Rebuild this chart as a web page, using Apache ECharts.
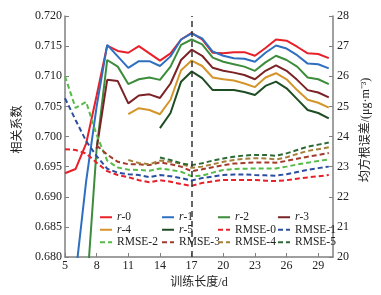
<!DOCTYPE html>
<html>
<head>
<meta charset="utf-8">
<script src="https://cdn.jsdelivr.net/npm/echarts@6/dist/echarts.min.js"></script>
<style>
  html, body { margin: 0; padding: 0; background: #fff; }
  #chart { width: 381px; height: 295px; }
</style>
</head>
<body>
<div id="chart"></div>
<script>
// training length (days)
const days = [5, 6, 7, 8, 9, 10, 11, 12, 13, 14, 15, 16, 17, 18, 19, 20, 21, 22, 23, 24, 25, 26, 27, 28, 29, 30];
const xTicks = [5, 8, 11, 14, 17, 20, 23, 26, 29];

// correlation coefficient r (left axis)
const r0 = [0.6939, 0.6946, 0.6988, 0.7068, 0.7151, 0.7142, 0.7139, 0.7150, 0.7138, 0.7126,
  0.7138, 0.7161, 0.7172, 0.7161, 0.7139, 0.7138, 0.7140, 0.7140, 0.7134, 0.7147,
  0.7161, 0.7159, 0.7149, 0.7138, 0.7137, 0.7130];
const r1 = [null, 0.677, 0.6925, 0.7050, 0.7152, 0.7133, 0.7114, 0.7125, 0.7125, 0.7117,
  0.7133, 0.7161, 0.7171, 0.7163, 0.7141, 0.7134, 0.7130, 0.7129, 0.7124, 0.7139,
  0.7151, 0.7146, 0.7135, 0.7121, 0.7120, 0.7113];
const r2 = [null, null, 0.673, 0.698, 0.7127, 0.7116, 0.7087, 0.7095, 0.7098, 0.7094,
  0.7116, 0.7152, 0.7161, 0.7153, 0.7131, 0.7124, 0.7120, 0.7116, 0.7109, 0.7123,
  0.7134, 0.7127, 0.7116, 0.7098, 0.7095, 0.7087];
const r3 = [null, null, null, 0.698, 0.7094, 0.7092, 0.7055, 0.7068, 0.7070, 0.7064,
  0.7088, 0.7127, 0.7144, 0.7134, 0.7114, 0.7109, 0.7106, 0.7102, 0.7095, 0.7109,
  0.7118, 0.7109, 0.7094, 0.7077, 0.7073, 0.7065];
const r4 = [null, null, null, null, null, null, 0.7037, 0.7047, 0.7044, 0.7037,
  0.7061, 0.7110, 0.7126, 0.7117, 0.7098, 0.7095, 0.7093, 0.7088, 0.7082, 0.7098,
  0.7105, 0.7095, 0.7077, 0.7061, 0.7056, 0.7048];
const r5 = [null, null, null, null, null, null, null, null, null, 0.7014,
  0.7039, 0.7091, 0.7108, 0.7097, 0.7077, 0.7077, 0.7077, 0.7074, 0.7069, 0.7084,
  0.7091, 0.7080, 0.7062, 0.7044, 0.7039, 0.7030];

// RMSE (right axis)
const rmse0 = [23.58, 23.55, 23.44, 23.13, 22.85, 22.72, 22.65, 22.55, 22.48, 22.55,
  22.50, 22.42, 22.36, 22.46, 22.51, 22.56, 22.56, 22.56, 22.56, 22.53,
  22.52, 22.55, 22.60, 22.64, 22.68, 22.72];
const rmse1 = [25.27, 24.55, 23.85, 23.35, 22.93, 22.80, 22.75, 22.72, 22.65, 22.72,
  22.68, 22.62, 22.54, 22.62, 22.67, 22.72, 22.74, 22.74, 22.72, 22.71,
  22.70, 22.75, 22.82, 22.89, 22.95, 23.00];
const rmse2 = [26.0, 24.95, 25.15, 24.05, 23.2, 22.97, 22.90, 22.89, 22.86, 22.94,
  22.89, 22.83, 22.68, 22.70, 22.80, 22.89, 22.92, 22.93, 22.94, 22.94,
  22.94, 23.00, 23.07, 23.13, 23.19, 23.24];
const rmse3 = [null, null, null, 23.70, 23.40, 23.16, 23.08, 23.08, 23.05, 23.14,
  23.08, 23.00, 22.85, 22.91, 22.98, 23.05, 23.10, 23.12, 23.14, 23.14,
  23.13, 23.19, 23.26, 23.33, 23.39, 23.45];
const rmse4 = [null, null, null, null, null, null, 23.22, 23.12, 23.08, 23.20,
  23.16, 23.10, 22.96, 23.00, 23.08, 23.16, 23.22, 23.26, 23.28, 23.27,
  23.24, 23.31, 23.42, 23.52, 23.58, 23.64];
const rmse5 = [null, null, null, null, null, null, null, null, null, 23.30,
  23.22, 23.11, 23.05, 23.11, 23.20, 23.27, 23.33, 23.37, 23.39, 23.39,
  23.36, 23.44, 23.55, 23.66, 23.73, 23.80];

const splitDay = 17;

const serif = 'Liberation Serif, Noto Sans CJK SC, serif';
const axisColor = '#808080';
const textColor = '#222';

const pairs = (arr) => days.map((d, i) => [d, arr[i]]);

function solid(name, data, color) {
  return {
    name, type: 'line', yAxisIndex: 0, data: pairs(data),
    symbol: 'none', lineStyle: { color, width: 2 }, itemStyle: { color }
  };
}
function dashed(name, data, color) {
  return {
    name, type: 'line', yAxisIndex: 1, data: pairs(data),
    symbol: 'none', lineStyle: { color, width: 2, type: [5, 3] }, itemStyle: { color }
  };
}

const series = [
  solid('r-0', r0, '#e8202a'),
  solid('r-1', r1, '#2e6fc0'),
  solid('r-2', r2, '#3c8c3c'),
  solid('r-3', r3, '#7b2226'),
  solid('r-4', r4, '#d4952a'),
  solid('r-5', r5, '#1e4d24'),
  dashed('RMSE-0', rmse0, '#e8202a'),
  dashed('RMSE-1', rmse1, '#2b4fa0'),
  dashed('RMSE-2', rmse2, '#56bb48'),
  dashed('RMSE-3', rmse3, '#a33b2e'),
  dashed('RMSE-4', rmse4, '#a5803a'),
  dashed('RMSE-5', rmse5, '#2d6a35'),
];

// vertical split at the best training length
series[0].markLine = {
  silent: true, symbol: 'none', label: { show: false },
  lineStyle: { color: '#333', width: 1.5, type: [6, 4] },
  data: [{ xAxis: splitDay }]
};

const legendCols = [
  { left: 94, names: ['r-0', 'r-4', 'RMSE-2'] },
  { left: 156, names: ['r-1', 'r-5', 'RMSE-3'] },
  { left: 212, names: ['r-2', 'RMSE-0', 'RMSE-4'] },
  { left: 272, names: ['r-3', 'RMSE-1', 'RMSE-5'] },
];

const legend = legendCols.map((c) => ({
  orient: 'vertical', left: c.left, top: 206, data: c.names,
  itemWidth: 12, itemHeight: 8, itemGap: 0,
  itemStyle: { opacity: 0 },
  textStyle: {
    fontFamily: serif, fontSize: 11.5, color: textColor, lineHeight: 12.5,
    rich: { i: { fontFamily: serif, fontSize: 11.5, fontStyle: 'italic', color: textColor, lineHeight: 12.5 } }
  },
  formatter: (n) => n.startsWith('r-') ? '{i|r}' + n.slice(1) : n
}));

const chart = echarts.init(document.getElementById('chart'), null, { renderer: 'canvas' });
chart.setOption({
  animation: false,
  backgroundColor: '#fff',
  grid: { left: 65, right: 48, top: 16, bottom: 38 },
  legend,
  xAxis: {
    type: 'value', min: 5, max: 30.4,
    name: '训练长度/d', nameLocation: 'middle', nameGap: 17,
    nameTextStyle: { fontFamily: serif, fontSize: 12, color: textColor },
    axisLine: { lineStyle: { color: axisColor, width: 1.5 } },
    axisTick: { inside: true, length: 4, customValues: xTicks, lineStyle: { color: axisColor } },
    axisLabel: { customValues: xTicks, margin: 3, fontFamily: serif, fontSize: 12, color: textColor },
    splitLine: { show: false }
  },
  yAxis: [
    {
      type: 'value', min: 0.68, max: 0.72, interval: 0.005,
      name: '相关系数', nameLocation: 'middle', nameGap: 36, nameRotate: 90,
      nameTextStyle: { fontFamily: serif, fontSize: 12, color: textColor, padding: [0, 0, 0, 14] },
      axisLine: { show: true, lineStyle: { color: axisColor, width: 1.5 } },
      axisTick: { show: true, inside: true, length: 4, lineStyle: { color: axisColor } },
      axisLabel: { margin: 3, fontFamily: serif, fontSize: 12, color: textColor, formatter: (v) => v.toFixed(3) },
      splitLine: { show: false }
    },
    {
      type: 'value', min: 20, max: 28, interval: 1, position: 'right',
      name: '均方根误差/(μg·m⁻³)', nameLocation: 'middle', nameGap: 24, nameRotate: 90,
      nameTextStyle: { fontFamily: serif, fontSize: 12, color: textColor, padding: [0, 0, 0, 13] },
      axisLine: { show: true, lineStyle: { color: axisColor, width: 1.5 } },
      axisTick: { show: true, inside: true, length: 4, lineStyle: { color: axisColor } },
      axisLabel: { margin: 4, fontFamily: serif, fontSize: 12, color: textColor },
      splitLine: { show: false }
    }
  ],
  series
});
</script>
</body>
</html>
